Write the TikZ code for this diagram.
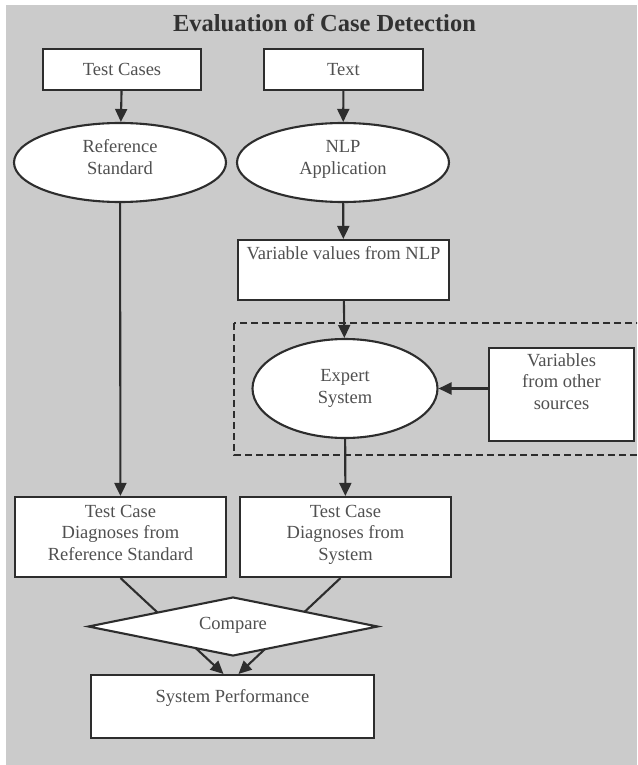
\documentclass[tikz,border=0pt]{standalone}
\usepackage{fontspec}
\setmainfont{Liberation Serif}
\usetikzlibrary{shapes.geometric,arrows.meta,backgrounds}
\definecolor{bgGray}{RGB}{203,203,203}
\definecolor{lineGray}{RGB}{45,45,45}
\definecolor{textGray}{RGB}{80,80,80}
\definecolor{titleGray}{RGB}{50,50,50}
\newcommand\flowLineWidth{2.1pt}
\newcommand\flowFont{\fontsize{18.5}{21.5}\selectfont}
\tikzset{
	flowbox/.style={rectangle, draw=lineGray, line width=\flowLineWidth, fill=white,
		inner sep=0pt, align=center, text=textGray, font=\flowFont, text height=13pt},
	flowoval/.style={flowbox, ellipse},
	flowdiamond/.style={flowbox, diamond, aspect=4.9},
	flowarrow/.style={draw=lineGray, line width=\flowLineWidth, -{Triangle[length=13pt,width=12pt]}},
	dashedframe/.style={draw=lineGray, line width=\flowLineWidth, dash pattern=on 7pt off 4pt}
}

\begin{document}
\begin{tikzpicture}[x=1pt, y=-1pt]
		\useasboundingbox (0,0) rectangle (637,765);
		\clip (0,0) rectangle (637,765);
		
		\node[font=\fontsize{24.5}{28}\selectfont\bfseries, text=titleGray, anchor=base] (title) at (324.5,32) {Evaluation of Case Detection};
		
		% inputs
		\node[flowbox, minimum width=158pt, minimum height=41pt, text depth=0pt] (tcases) at (122,69.5) {Test Cases};
		\node[flowbox, minimum width=159pt, minimum height=41pt, text depth=0pt] (txt) at (343.5,69.5) {Text};
		\node[flowoval, minimum width=212pt, minimum height=79pt, text height=30pt, text depth=6.4pt] (refstd) at (120,162.5) {Reference\\Standard};
		\node[flowoval, minimum width=212pt, minimum height=79pt, text height=30pt, text depth=6.4pt] (nlp) at (343,162.5) {NLP\\Application};
		\node[flowbox, minimum width=211pt, minimum height=60pt, text depth=34pt] (varnlp) at (343.5,270) {Variable values from NLP};
		
		% expert system part
		\draw[dashedframe] (234,323) rectangle (642,455);
		\node[flowoval, minimum width=185pt, minimum height=99pt, text height=35pt, text depth=6pt] (expsys) at (345,388.5) {Expert\\System};
		\node[flowbox, minimum width=145pt, minimum height=93pt, text height=35pt, text depth=6pt] (varoth) at (561.5,394.5) {Variables\\from other\\sources};
		
		% results
		\node[flowbox, minimum width=211pt, minimum height=80pt, text height=52pt, text depth=6pt] (refdx) at (120.5,537) {Test Case\\Diagnoses from\\Reference Standard};
		\node[flowbox, minimum width=211pt, minimum height=80pt, text height=52pt, text depth=6pt] (sysdx) at (345.5,537) {Test Case\\Diagnoses from\\System};
		\node[flowdiamond, minimum width=290pt, minimum height=59pt, text depth=7.4pt] (cmp) at (233,626.5) {Compare};
		\node[flowbox, minimum width=283pt, minimum height=63pt, text depth=20.6pt] (perf) at (232.5,706.5) {System Performance};
		
		\draw[flowarrow] (tcases) -- (refstd);
		\draw[flowarrow] (txt) -- (nlp);
		\draw[flowarrow] (nlp) -- (varnlp);
		\draw[flowarrow] (varnlp) -- (expsys);
		\draw[flowarrow] (varoth.west |- expsys.east) -- (expsys.east);
		\draw[flowarrow] (expsys) -- (sysdx);
		\draw[flowarrow] (refstd) -- (refdx);
		
		\begin{scope}[on background layer]
			\fill[bgGray] (6,5) rectangle (637,765);
			% these run behind the diamond
			\draw[flowarrow] (refdx.south) -- ([xshift=-9pt]perf.north);
			\draw[flowarrow] ([xshift=-5pt]sysdx.south) -- ([xshift=6pt]perf.north);
		\end{scope}
	\end{tikzpicture}
\end{document}
